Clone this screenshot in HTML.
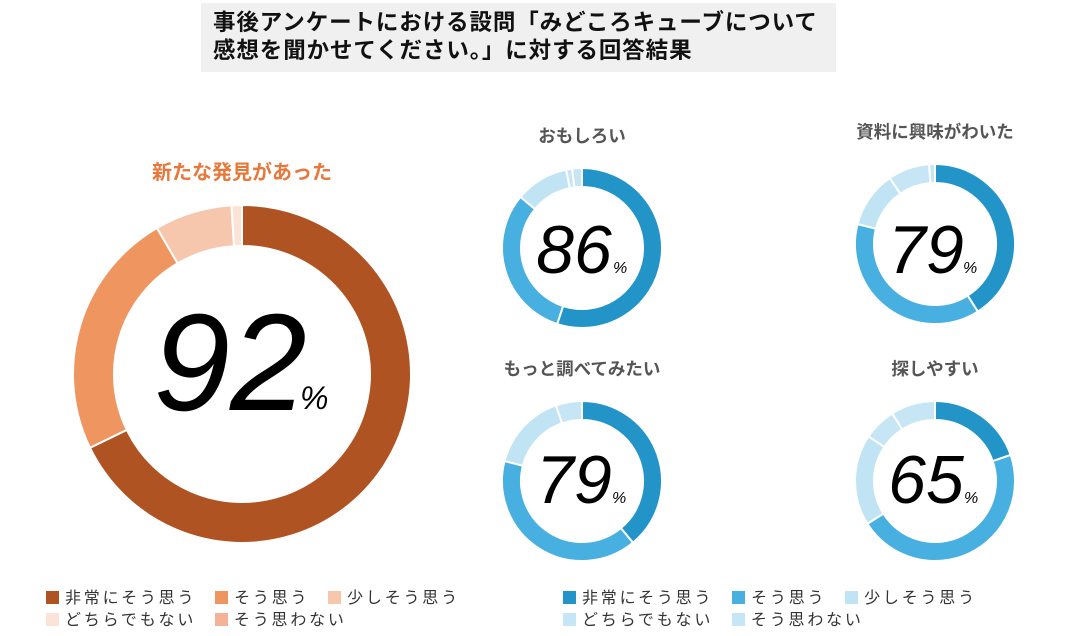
<!DOCTYPE html>
<html><head><meta charset="utf-8"><style>
body{margin:0;width:1083px;height:636px;background:#fff;overflow:hidden;font-family:"Liberation Sans","Noto Sans CJK JP",sans-serif}
.t{position:absolute;left:201px;top:3px;width:635px;height:69px;background:#f0f0f0}
.t div{position:absolute;left:12px;font-weight:bold;font-size:22.5px;letter-spacing:0.9px;color:#111;line-height:28px;white-space:nowrap}
.lg{position:absolute;font-size:16px;color:#333;letter-spacing:2.8px;white-space:nowrap}
.lg span{display:inline-block;width:13px;height:13px;margin-right:6px;vertical-align:-1px}
</style></head><body>
<div class="t"><div style="top:6px">事後アンケートにおける設問「みどころキューブについて</div><div style="top:34px">感想を聞かせてください。」に対する回答結果</div></div>
<svg id="s" width="1083" height="636" style="position:absolute;left:0;top:0">
<g font-weight="bold" text-anchor="middle">
<text x="242" y="179" font-size="20" fill="#e8773a">新たな発見があった</text>
<text x="582" y="142" font-size="17.5" fill="#555">おもしろい</text>
<text x="935" y="138" font-size="17.5" fill="#555">資料に興味がわいた</text>
<text x="582" y="375" font-size="17.5" fill="#555">もっと調べてみたい</text>
<text x="935" y="375" font-size="17.5" fill="#555">探しやすい</text>
</g>
<g font-family="Liberation Sans, sans-serif" font-style="italic" fill="#000">
<text x="230" y="410" font-size="138" text-anchor="middle">92</text><text x="300" y="409" font-size="32">%</text>
<text x="574" y="273" font-size="68" text-anchor="middle">86</text><text x="613" y="273" font-size="16">%</text>
<text x="926" y="273" font-size="68" text-anchor="middle">79</text><text x="963" y="273" font-size="16">%</text>
<text x="574" y="503" font-size="68" text-anchor="middle">79</text><text x="612" y="503" font-size="16">%</text>
<text x="926" y="503" font-size="68" text-anchor="middle">65</text><text x="964" y="503" font-size="16">%</text>
</g>
</svg>
<div class="lg" style="left:46px;top:584px"><span style="background:#b05323"></span>非常にそう思う　<span style="background:#ef9560"></span>そう思う　<span style="background:#f6c6ad"></span>少しそう思う</div>
<div class="lg" style="left:46px;top:606px"><span style="background:#fbe3d8"></span>どちらでもない　<span style="background:#f4b397"></span>そう思わない</div>
<div class="lg" style="left:563px;top:584px"><span style="background:#2394c8"></span>非常にそう思う　<span style="background:#47b0e0"></span>そう思う　<span style="background:#c1e4f4"></span>少しそう思う</div>
<div class="lg" style="left:563px;top:606px"><span style="background:#c6e6f5"></span>どちらでもない　<span style="background:#c6e6f5"></span>そう思わない</div>
<script>
var s=document.getElementById('s');
function d(cx,cy,R,r,vals,cols){var a=0;for(var i=0;i<vals.length;i++){var a0=a,a1=a+vals[i];a=a1;if(vals[i]<=0)continue;
var t0=a0/100*2*Math.PI,t1=a1/100*2*Math.PI,L=(a1-a0)>50?1:0;
function p(rr,t){return (cx+rr*Math.sin(t)).toFixed(2)+' '+(cy-rr*Math.cos(t)).toFixed(2)}
var path='M'+p(R,t0)+' A'+R+' '+R+' 0 '+L+' 1 '+p(R,t1)+' L'+p(r,t1)+' A'+r+' '+r+' 0 '+L+' 0 '+p(r,t0)+'Z';
var e=document.createElementNS('http://www.w3.org/2000/svg','path');e.setAttribute('d',path);e.setAttribute('fill',cols[i]);e.setAttribute('stroke','#fff');e.setAttribute('stroke-width','2');s.insertBefore(e,s.firstChild);}}
var O=['#b05323','#ef9560','#f6c6ad','#fbe3d8','#f4b397'],B=['#2394c8','#47b0e0','#c1e4f4','#c6e6f5','#c6e6f5'];
d(242,374,169,128,[67.8,23.8,7.4,1],O);
d(582,248,80,61,[55,31,10.8,1.2,2],B);
d(935,244,80,61,[41,38,11.4,8.4,1.2],B);
d(582,481,80,61,[39,40,15.7,5.3],B);
d(935,481,80,61,[19.7,46.3,18.4,6.6,9],B);
</script>
</body></html>
